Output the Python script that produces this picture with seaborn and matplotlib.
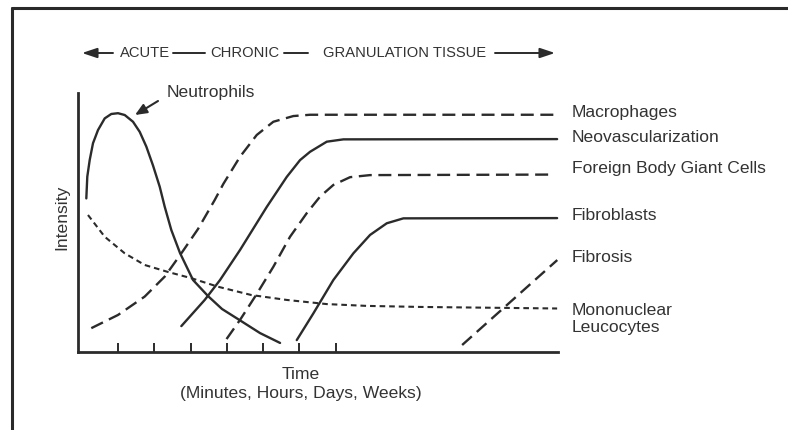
import numpy as np
import pandas as pd
import matplotlib
matplotlib.use("Agg")
import matplotlib.pyplot as plt
import seaborn as sns
from matplotlib.lines import Line2D

# ---------------- data (time units, intensity 0-100) ----------------
neutro_x = [0.229, 0.256, 0.322, 0.413, 0.551, 0.736, 0.917, 1.102, 1.287, 1.515, 1.700, 1.882,
            2.066, 2.251, 2.388, 2.570, 2.810, 3.168, 3.581, 3.967, 4.408, 5.014, 5.565]
neutro_y = [59.3, 67.7, 74.1, 80.6, 85.7, 90.2, 91.9, 92.2, 91.5, 88.9, 85.0, 79.3,
            72.0, 63.8, 56.1, 47.1, 38.2, 27.8, 21.6, 16.6, 12.7, 7.3, 3.5]

macro_x = [0.366, 1.102, 1.837, 2.388, 2.846, 3.306, 3.766, 4.003, 4.463, 4.923, 5.380, 5.931, 6.391, 13.196]
macro_y = [9.2, 14.3, 21.4, 29.1, 38.1, 47.5, 58.7, 64.9, 75.4, 83.8, 88.9, 91.1, 91.6, 91.6]

neovasc_x = [2.846, 3.490, 3.912, 4.463, 5.198, 5.749, 6.116, 6.391, 6.851, 7.309, 13.196]
neovasc_y = [10.0, 20.1, 27.8, 39.4, 56.0, 67.6, 74.1, 77.3, 81.2, 82.1, 82.2]

fbgc_x = [4.091, 4.463, 4.923, 5.380, 5.840, 6.300, 6.667, 7.033, 7.493, 8.044, 13.003]
fbgc_y = [5.0, 12.4, 22.4, 32.9, 44.5, 53.6, 60.0, 64.5, 67.5, 68.3, 68.5]

fibroblast_x = [6.025, 6.482, 7.033, 7.584, 8.044, 8.504, 8.961, 13.196]
fibroblast_y = [4.6, 14.9, 27.8, 38.1, 45.2, 49.7, 51.6, 51.7]

fibrosis_x = [10.58, 13.20]
fibrosis_y = [2.7, 35.5]

mono_x = [0.275, 0.736, 1.287, 1.837, 2.479, 3.121, 3.857, 4.774, 5.749, 6.851, 7.953, 9.421, 13.196]
mono_y = [52.9, 44.5, 38.1, 33.6, 30.9, 28.5, 25.2, 22.0, 20.1, 18.5, 17.8, 17.4, 16.8]

series_labels = ["Macrophages", "Neovascularization", "Foreign Body Giant Cells",
                 "Fibroblasts", "Fibrosis", "Mononuclear\nLeucocytes"]
header_words = ["ACUTE", "CHRONIC", "GRANULATION TISSUE"]
x_title = "Time\n(Minutes, Hours, Days, Weeks)"
y_title = "Intensity"
tick_positions = [1.1, 2.1, 3.1, 4.1, 5.1, 6.1, 7.1]

# ---------------- style ----------------
sns.set_style("white")
plt.rcParams["font.family"] = ["Liberation Sans", "DejaVu Sans"]
INK = "#2b2b2b"
TXT = "#333333"
W, H = 788, 430

fig = plt.figure(figsize=(W / 100, H / 100), dpi=100)
fig.patch.set_facecolor("white")
ax = fig.add_axes([78 / W, (H - 352) / H, 480 / W, 259 / H])

solid = "-"
dashed = (0, (5.5, 2.8))
dotted = (0, (2.7, 1.9))

def draw(xs, ys, ls, lw):
    df = pd.DataFrame({"x": xs, "y": ys})
    sns.lineplot(data=df, x="x", y="y", ax=ax, color=INK, lw=lw,
                 linestyle=ls, sort=False, estimator=None, clip_on=False)
    ax.lines[-1].set_solid_joinstyle("round")
    ax.lines[-1].set_dash_joinstyle("round")

draw(neutro_x, neutro_y, solid, 1.7)
draw(macro_x, macro_y, dashed, 1.7)
draw(neovasc_x, neovasc_y, solid, 1.7)
draw(fbgc_x, fbgc_y, dashed, 1.7)
draw(fibroblast_x, fibroblast_y, solid, 1.7)
draw(fibrosis_x, fibrosis_y, dashed, 1.7)
draw(mono_x, mono_y, dotted, 1.5)

ax.set_xlim(0, 13.22)
ax.set_ylim(0, 100)
ax.set_xlabel("")
ax.set_ylabel("")
for s in ["top", "right"]:
    ax.spines[s].set_visible(False)
for s in ["left", "bottom"]:
    ax.spines[s].set_color(INK)
    ax.spines[s].set_linewidth(2.0)
ax.set_xticks(tick_positions)
ax.set_xticklabels([])
ax.set_yticks([])
ax.tick_params(axis="x", direction="in", length=6.5, width=1.4, color=INK, bottom=True)

def ftext(px, py, s, **kw):
    ax.annotate(s, xy=(px, H - py), xycoords="figure pixels", color=TXT, **kw)

# right-hand series labels
label_y = [113, 137, 168, 215, 258, 319]
for lab, py in zip(series_labels, label_y):
    ftext(572, py, lab, ha="left", va="center", fontsize=12.6, linespacing=1.15)

# axis titles
ftext(62, 217, y_title, ha="center", va="center", fontsize=12.6, rotation=90)
ftext(301, 384, x_title, ha="center", va="center", fontsize=12.6,
      multialignment="center", linespacing=1.3)

# Neutrophils label + arrow
ftext(167, 92, "Neutrophils", ha="left", va="center", fontsize=12.6)
ax.annotate("", xy=(135, H - 115), xytext=(158, H - 101),
            xycoords="figure pixels", textcoords="figure pixels",
            arrowprops=dict(arrowstyle="-|>,head_length=0.7,head_width=0.3",
                            color=INK, lw=1.5, shrinkA=0, shrinkB=0))

# header
hy = 53
ftext(120, hy, header_words[0], ha="left", va="center", fontsize=10.6)
ftext(210, hy, header_words[1], ha="left", va="center", fontsize=10.6)
ftext(323, hy, header_words[2], ha="left", va="center", fontsize=10.6)
ax.annotate("", xy=(82, H - hy), xytext=(113, H - hy),
            xycoords="figure pixels", textcoords="figure pixels",
            arrowprops=dict(arrowstyle="-|>,head_length=0.9,head_width=0.3",
                            color=INK, lw=1.4, shrinkA=0, shrinkB=0))
ax.annotate("", xy=(555, H - hy), xytext=(495, H - hy),
            xycoords="figure pixels", textcoords="figure pixels",
            arrowprops=dict(arrowstyle="-|>,head_length=0.9,head_width=0.3",
                            color=INK, lw=1.4, shrinkA=0, shrinkB=0))
for x0, x1 in [(173, 205), (284, 308)]:
    fig.add_artist(Line2D([x0 / W, x1 / W], [(H - hy) / H] * 2,
                          transform=fig.transFigure, color=INK, lw=1.4))

# frame border (top and left)
fig.add_artist(Line2D([11.5 / W, 11.5 / W], [0, (H - 7.5) / H],
                      transform=fig.transFigure, color="#2a2a2a", lw=2.2))
fig.add_artist(Line2D([11.5 / W, 1], [(H - 7.5) / H] * 2,
                      transform=fig.transFigure, color="#2a2a2a", lw=2.2))

fig.savefig("out.png", dpi=100)
